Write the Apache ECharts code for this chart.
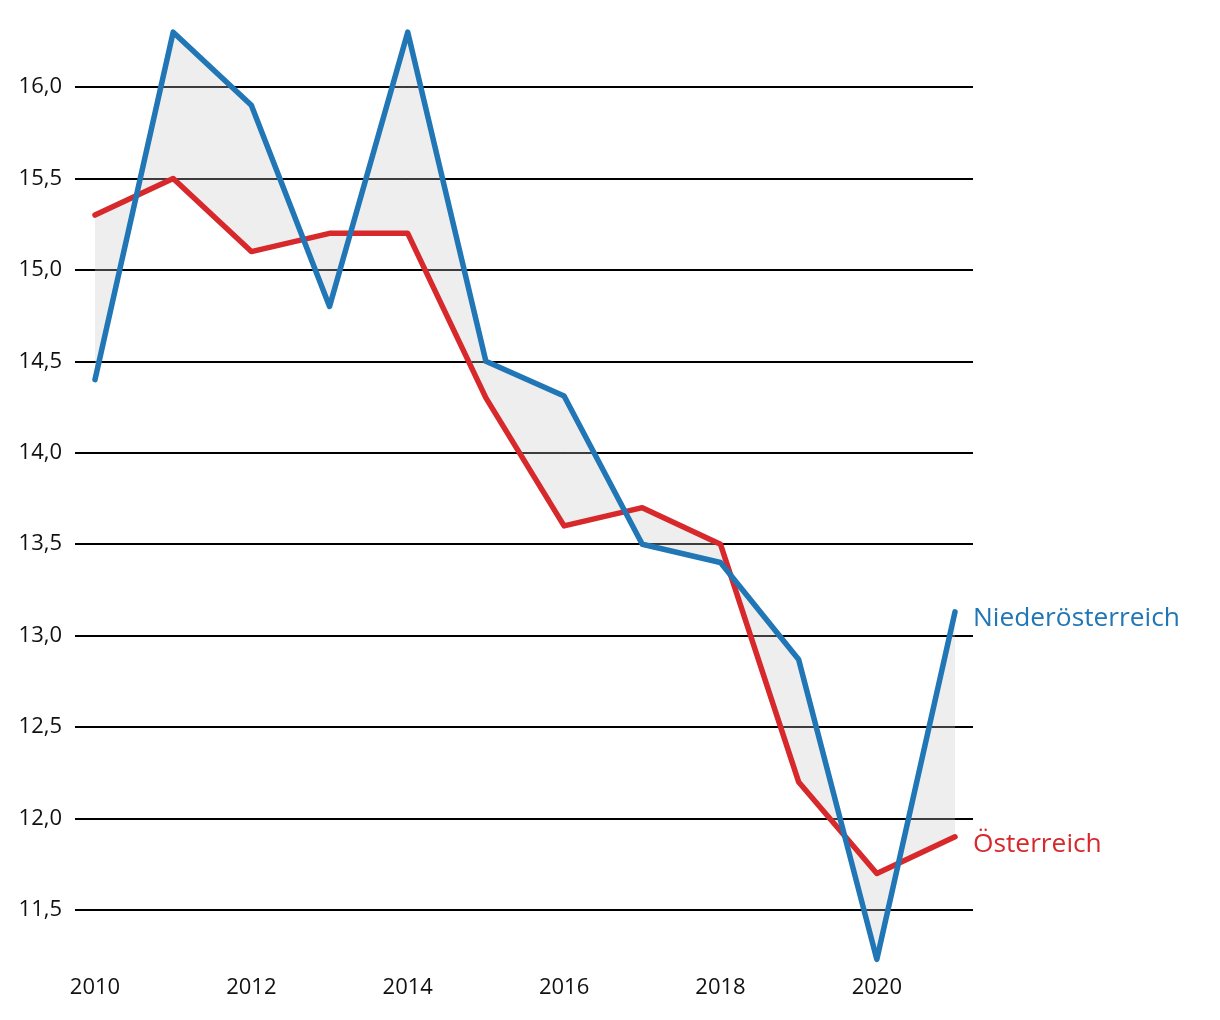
<!DOCTYPE html>
<html>
<head>
<meta charset="utf-8">
<script src="https://cdn.jsdelivr.net/npm/echarts@6/dist/echarts.min.js"></script>
<style>
html,body{margin:0;padding:0;background:#fff;}
#chart{width:1220px;height:1020px;}
</style>
</head>
<body>
<div id="chart"></div>
<script>
const years = [2010, 2011, 2012, 2013, 2014, 2015, 2016, 2017, 2018, 2019, 2020, 2021];
const niederoesterreich = [14.4, 16.3, 15.9, 14.8, 16.3, 14.5, 14.31, 13.5, 13.4, 12.87, 11.23, 13.13];
const oesterreich = [15.3, 15.5, 15.1, 15.2, 15.2, 14.3, 13.6, 13.7, 13.5, 12.2, 11.7, 11.9];
const seriesNames = ['Niederösterreich', 'Österreich'];
const yMin = 11.5, yMax = 16.0, yStep = 0.5;
const xMin = 2010, xMax = 2021, xStep = 2;

const FONT = '"Open Sans"';
const BLUE = '#2176b6';
const RED = '#d7282b';

const bandData = [];
for (let i = 0; i < years.length - 1; i++) {
  bandData.push([years[i], niederoesterreich[i], oesterreich[i], years[i + 1], niederoesterreich[i + 1], oesterreich[i + 1]]);
}

const chart = echarts.init(document.getElementById('chart'), null, {renderer: 'canvas'});
chart.setOption({
  animation: false,
  backgroundColor: '#fff',
  grid: [
    {left: 75, right: 247, top: 87, bottom: 110},
    {left: 95, right: 265, top: 87, bottom: 110}
  ],
  xAxis: [
    {gridIndex: 0, type: 'value', min: 0, max: 1, show: false},
    {
      gridIndex: 1, type: 'value', min: xMin, max: xMax, interval: xStep,
      axisLine: {show: false}, axisTick: {show: false}, splitLine: {show: false},
      axisLabel: {
        showMaxLabel: false, margin: 67, color: '#111', fontFamily: FONT, fontSize: 22,
        formatter: v => String(v)
      }
    }
  ],
  yAxis: [
    {
      gridIndex: 0, type: 'value', min: yMin, max: yMax, interval: yStep,
      axisLine: {show: false}, axisTick: {show: false},
      splitLine: {show: true, lineStyle: {color: '#000', width: 2}},
      axisLabel: {
        margin: 13, color: '#111', fontFamily: FONT, fontSize: 22,
        formatter: v => v.toFixed(1).replace('.', ',')
      }
    },
    {gridIndex: 1, type: 'value', min: yMin, max: yMax, show: false, splitLine: {show: false}}
  ],
  series: [
    {
      type: 'custom',
      xAxisIndex: 1, yAxisIndex: 1,
      clip: false,
      silent: true,
      z: 1,
      data: bandData,
      encode: {x: [0, 3], y: [1, 2, 4, 5]},
      renderItem: function (params, api) {
        const p1 = api.coord([api.value(0), api.value(1)]);
        const p2 = api.coord([api.value(3), api.value(4)]);
        const p3 = api.coord([api.value(3), api.value(5)]);
        const p4 = api.coord([api.value(0), api.value(2)]);
        return {
          type: 'polygon',
          shape: {points: [p1, p2, p3, p4]},
          style: {fill: 'rgba(200,200,200,0.3)', stroke: null}
        };
      }
    },
    {
      name: seriesNames[1],
      type: 'line',
      xAxisIndex: 1, yAxisIndex: 1,
      clip: false,
      z: 3,
      symbol: 'none',
      data: years.map((y, i) => [y, oesterreich[i]]),
      lineStyle: {color: RED, width: 5.5, cap: 'round', join: 'round'},
      itemStyle: {color: RED},
      endLabel: {
        show: true, formatter: '{a}', color: RED, fontFamily: FONT, fontSize: 26.3,
        distance: 18, offset: [0, 8]
      }
    },
    {
      name: seriesNames[0],
      type: 'line',
      xAxisIndex: 1, yAxisIndex: 1,
      clip: false,
      z: 4,
      symbol: 'none',
      data: years.map((y, i) => [y, niederoesterreich[i]]),
      lineStyle: {color: BLUE, width: 5.5, cap: 'round', join: 'round'},
      itemStyle: {color: BLUE},
      endLabel: {
        show: true, formatter: '{a}', color: BLUE, fontFamily: FONT, fontSize: 26.3,
        distance: 18, offset: [0, 7]
      }
    }
  ]
});
</script>
</body>
</html>
